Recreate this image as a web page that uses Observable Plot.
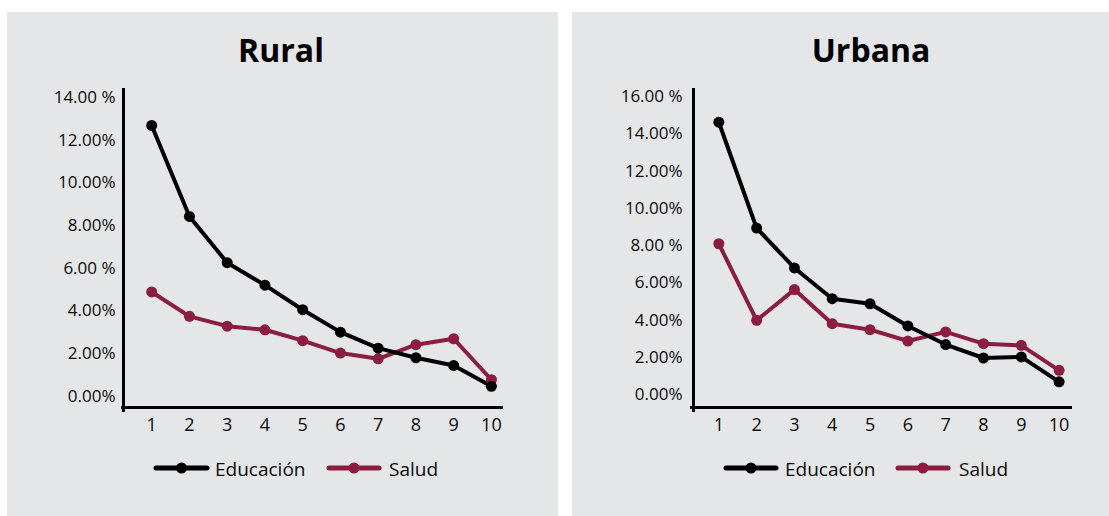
<!DOCTYPE html>
<html>
<head>
<meta charset="utf-8">
<script src="https://cdn.jsdelivr.net/npm/d3@7"></script>
<script src="https://cdn.jsdelivr.net/npm/@observablehq/plot@0.6"></script>
<style>
  html, body { margin: 0; padding: 0; background: #ffffff; }
  body { width: 1109px; height: 516px; position: relative; overflow: hidden; font-family: "Open Sans", sans-serif; }
  .panel { position: absolute; background: #e5e6e8; }
  .panel svg { display: block; }
  #overlay { position: absolute; left: 0; top: 0; }
</style>
</head>
<body>
<div id="rural" class="panel" style="left:7px;top:12px;width:551px;height:504px;"></div>
<div id="urbana" class="panel" style="left:572px;top:12px;width:537px;height:504px;"></div>
<svg id="overlay" width="1109" height="516"></svg>
<script>
// ---- Data ----
const deciles = [1, 2, 3, 4, 5, 6, 7, 8, 9, 10];
const seriesNames = ["Educación", "Salud"];
const seriesColors = ["#000000", "#8c1d40"];

const ruralEducacion = [12.69, 8.43, 6.26, 5.21, 4.06, 3.01, 2.26, 1.81, 1.45, 0.47];
const ruralSalud     = [4.89, 3.75, 3.29, 3.12, 2.61, 2.03, 1.76, 2.42, 2.70, 0.78];
const urbanaEducacion = [14.62, 8.94, 6.80, 5.15, 4.88, 3.69, 2.69, 1.97, 2.03, 0.69];
const urbanaSalud     = [8.10, 3.99, 5.64, 3.81, 3.49, 2.88, 3.37, 2.74, 2.65, 1.31];

const ruralYTicks = [0, 2, 4, 6, 8, 10, 12, 14];
const ruralYLabels = ["0.00%", "2.00%", "4.00%", "6.00 %", "8.00%", "10.00%", "12.00%", "14.00 %"];
const urbanaYTicks = [0, 2, 4, 6, 8, 10, 12, 14, 16];
const urbanaYLabels = ["0.00%", "2.00%", "4.00%", "6.00%", "8.00 %", "10.00%", "12.00%", "14.00%", "16.00 %"];
const xTickLabels = ["1", "2", "3", "4", "5", "6", "7", "8", "9", "10"];

const titles = ["Rural", "Urbana"];

// ---- Chart builder ----
function panelChart(cfg) {
  const rows = [];
  // Salud drawn first, Educación on top
  deciles.forEach((d, i) => rows.push({d, v: cfg.salud[i], s: "Salud"}));
  deciles.forEach((d, i) => rows.push({d, v: cfg.educacion[i], s: "Educación"}));
  const yLab = new Map(cfg.yTicks.map((t, i) => [t, cfg.yLabels[i]]));
  const xLab = new Map(deciles.map((t, i) => [t, xTickLabels[i]]));
  return Plot.plot({
    width: cfg.width,
    height: cfg.height,
    marginLeft: cfg.marginLeft,
    marginRight: cfg.marginRight,
    marginTop: cfg.marginTop,
    marginBottom: cfg.marginBottom,
    style: {background: "transparent", fontFamily: "'Open Sans', sans-serif", fontSize: "17px", color: "#0a0a0a"},
    x: {domain: cfg.xDomain, axis: null},
    y: {domain: cfg.yDomain, axis: null},
    color: {domain: seriesNames, range: seriesColors},
    marks: [
      Plot.axisY({ticks: cfg.yTicks, tickFormat: t => yLab.get(t), tickSize: 0, tickPadding: cfg.yPad, fontSize: 17, fill: "#0a0a0a", label: null}),
      Plot.axisX({ticks: deciles, tickFormat: t => xLab.get(t), tickSize: 0, tickPadding: 11, fontSize: 18, fill: "#0a0a0a", label: null}),
      Plot.ruleY([cfg.yDomain[0]], {x1: cfg.xDomain[0], x2: cfg.xDomain[1], stroke: "#000", strokeWidth: 3}),
      Plot.ruleX([cfg.yAxisX], {y1: cfg.yAxisBottom, y2: cfg.yDomain[1], stroke: "#000", strokeWidth: 3}),
      Plot.line(rows, {x: "d", y: "v", z: "s", stroke: "s", strokeWidth: 4, strokeLinejoin: "round"}),
      Plot.dot(rows, {x: "d", y: "v", fill: "s", r: 5.5})
    ]
  });
}

document.getElementById("rural").appendChild(panelChart({
  educacion: ruralEducacion, salud: ruralSalud,
  yTicks: ruralYTicks, yLabels: ruralYLabels,
  width: 551, height: 504,
  marginLeft: 114, marginRight: 55, marginTop: 76, marginBottom: 109,
  xDomain: [0.2, 10.32], yDomain: [-0.52, 14.42],
  yAxisX: 0.253, yAxisBottom: -0.75, yPad: 6
}));

document.getElementById("urbana").appendChild(panelChart({
  educacion: urbanaEducacion, salud: urbanaSalud,
  yTicks: urbanaYTicks, yLabels: urbanaYLabels,
  width: 537, height: 504,
  marginLeft: 118, marginRight: 37, marginTop: 76, marginBottom: 109,
  xDomain: [0.251, 10.355], yDomain: [-0.686, 16.43],
  yAxisX: 0.33, yAxisBottom: -0.95, yPad: 8
}));

// ---- Titles and legends ----
const ov = d3.select("#overlay");
const titlePos = [[281, 62], [871, 62]];
titles.forEach((t, i) => {
  ov.append("text").attr("x", titlePos[i][0]).attr("y", titlePos[i][1])
    .attr("text-anchor", "middle").attr("font-family", "'Open Sans', sans-serif")
    .attr("font-weight", 700).attr("font-size", 32).attr("fill", "#000").text(t);
});
const legendItems = [
  [[156, 207, 215], [329, 379, 389]],
  [[726, 776, 785], [898, 948, 959]]
];
const legendY = 468;
legendItems.forEach(panel => {
  panel.forEach((it, k) => {
    const g = ov.append("g");
    g.append("line").attr("x1", it[0]).attr("x2", it[1]).attr("y1", legendY).attr("y2", legendY)
      .attr("stroke", seriesColors[k]).attr("stroke-width", 5).attr("stroke-linecap", "round");
    g.append("circle").attr("cx", (it[0] + it[1]) / 2).attr("cy", legendY).attr("r", 5.5).attr("fill", seriesColors[k]);
    g.append("text").attr("x", it[2]).attr("y", legendY + 7.5)
      .attr("font-family", "'Open Sans', sans-serif").attr("font-size", 19).attr("fill", "#0a0a0a")
      .text(seriesNames[k]);
  });
});
</script>
</body>
</html>
